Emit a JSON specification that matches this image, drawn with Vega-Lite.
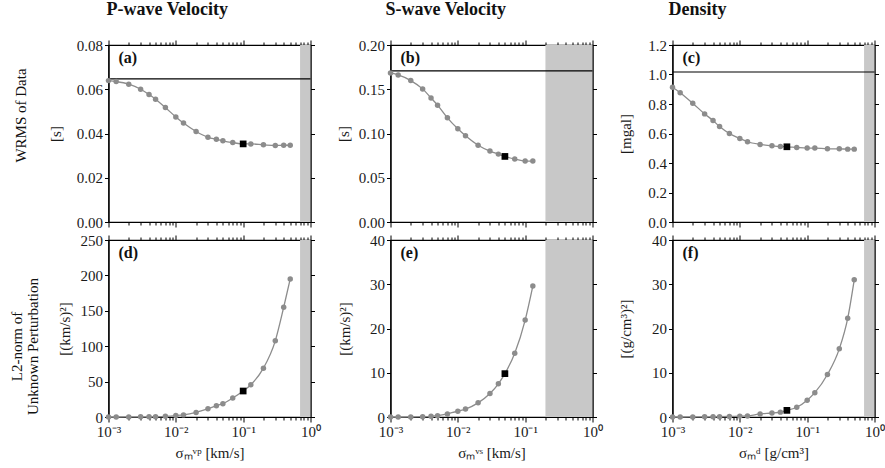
{
  "$schema": "https://vega.github.io/schema/vega-lite/v6.json",
  "padding": {"left": 9.5, "top": 0, "right": 2, "bottom": 2},
  "background": "white",
  "spacing": 1,
  "config": {
    "font": "Liberation Serif",
    "view": {"stroke": "black", "strokeWidth": 1.2},
    "axis": {
      "grid": false,
      "domainColor": "black",
      "domainWidth": 1.2,
      "tickColor": "black",
      "tickWidth": 1,
      "tickSize": 4,
      "labelColor": "#1a1a1a",
      "labelFont": "Liberation Serif",
      "labelFontSize": 15,
      "labelPadding": 2,
      "titleColor": "#1a1a1a",
      "titleFont": "Liberation Serif",
      "titleFontSize": 15,
      "titleFontWeight": "normal",
      "titlePadding": 8
    },
    "title": {"font": "Liberation Serif", "color": "#111"}
  },
  "datasets": {
    "curves": [
      {"p": "vp", "m": "wrms", "s": 0.001, "v": 0.0639, "best": 0},
      {"p": "vp", "m": "wrms", "s": 0.0013, "v": 0.0635, "best": 0},
      {"p": "vp", "m": "wrms", "s": 0.002, "v": 0.0623, "best": 0},
      {"p": "vp", "m": "wrms", "s": 0.003, "v": 0.06, "best": 0},
      {"p": "vp", "m": "wrms", "s": 0.004, "v": 0.0576, "best": 0},
      {"p": "vp", "m": "wrms", "s": 0.005, "v": 0.0555, "best": 0},
      {"p": "vp", "m": "wrms", "s": 0.007, "v": 0.0517, "best": 0},
      {"p": "vp", "m": "wrms", "s": 0.01, "v": 0.0475, "best": 0},
      {"p": "vp", "m": "wrms", "s": 0.013, "v": 0.0447, "best": 0},
      {"p": "vp", "m": "wrms", "s": 0.02, "v": 0.0409, "best": 0},
      {"p": "vp", "m": "wrms", "s": 0.03, "v": 0.0383, "best": 0},
      {"p": "vp", "m": "wrms", "s": 0.04, "v": 0.0374, "best": 0},
      {"p": "vp", "m": "wrms", "s": 0.05, "v": 0.0367, "best": 0},
      {"p": "vp", "m": "wrms", "s": 0.07, "v": 0.0359, "best": 0},
      {"p": "vp", "m": "wrms", "s": 0.1, "v": 0.0353, "best": 1},
      {"p": "vp", "m": "wrms", "s": 0.13, "v": 0.0353, "best": 0},
      {"p": "vp", "m": "wrms", "s": 0.2, "v": 0.0349, "best": 0},
      {"p": "vp", "m": "wrms", "s": 0.3, "v": 0.0346, "best": 0},
      {"p": "vp", "m": "wrms", "s": 0.4, "v": 0.0347, "best": 0},
      {"p": "vp", "m": "wrms", "s": 0.5, "v": 0.0347, "best": 0},

      {"p": "vs", "m": "wrms", "s": 0.001, "v": 0.1684, "best": 0},
      {"p": "vs", "m": "wrms", "s": 0.0013, "v": 0.1662, "best": 0},
      {"p": "vs", "m": "wrms", "s": 0.002, "v": 0.1598, "best": 0},
      {"p": "vs", "m": "wrms", "s": 0.003, "v": 0.1504, "best": 0},
      {"p": "vs", "m": "wrms", "s": 0.004, "v": 0.1402, "best": 0},
      {"p": "vs", "m": "wrms", "s": 0.005, "v": 0.132, "best": 0},
      {"p": "vs", "m": "wrms", "s": 0.007, "v": 0.1177, "best": 0},
      {"p": "vs", "m": "wrms", "s": 0.01, "v": 0.1053, "best": 0},
      {"p": "vs", "m": "wrms", "s": 0.013, "v": 0.0974, "best": 0},
      {"p": "vs", "m": "wrms", "s": 0.02, "v": 0.0868, "best": 0},
      {"p": "vs", "m": "wrms", "s": 0.03, "v": 0.0801, "best": 0},
      {"p": "vs", "m": "wrms", "s": 0.04, "v": 0.0767, "best": 0},
      {"p": "vs", "m": "wrms", "s": 0.05, "v": 0.0741, "best": 1},
      {"p": "vs", "m": "wrms", "s": 0.07, "v": 0.0711, "best": 0},
      {"p": "vs", "m": "wrms", "s": 0.1, "v": 0.0688, "best": 0},
      {"p": "vs", "m": "wrms", "s": 0.13, "v": 0.0688, "best": 0},

      {"p": "d", "m": "wrms", "s": 0.001, "v": 0.914, "best": 0},
      {"p": "d", "m": "wrms", "s": 0.0013, "v": 0.877, "best": 0},
      {"p": "d", "m": "wrms", "s": 0.002, "v": 0.805, "best": 0},
      {"p": "d", "m": "wrms", "s": 0.003, "v": 0.733, "best": 0},
      {"p": "d", "m": "wrms", "s": 0.004, "v": 0.688, "best": 0},
      {"p": "d", "m": "wrms", "s": 0.005, "v": 0.647, "best": 0},
      {"p": "d", "m": "wrms", "s": 0.007, "v": 0.6, "best": 0},
      {"p": "d", "m": "wrms", "s": 0.01, "v": 0.566, "best": 0},
      {"p": "d", "m": "wrms", "s": 0.013, "v": 0.544, "best": 0},
      {"p": "d", "m": "wrms", "s": 0.02, "v": 0.526, "best": 0},
      {"p": "d", "m": "wrms", "s": 0.03, "v": 0.517, "best": 0},
      {"p": "d", "m": "wrms", "s": 0.04, "v": 0.512, "best": 0},
      {"p": "d", "m": "wrms", "s": 0.05, "v": 0.51, "best": 1},
      {"p": "d", "m": "wrms", "s": 0.07, "v": 0.505, "best": 0},
      {"p": "d", "m": "wrms", "s": 0.1, "v": 0.501, "best": 0},
      {"p": "d", "m": "wrms", "s": 0.13, "v": 0.501, "best": 0},
      {"p": "d", "m": "wrms", "s": 0.2, "v": 0.496, "best": 0},
      {"p": "d", "m": "wrms", "s": 0.3, "v": 0.496, "best": 0},
      {"p": "d", "m": "wrms", "s": 0.4, "v": 0.494, "best": 0},
      {"p": "d", "m": "wrms", "s": 0.5, "v": 0.494, "best": 0},

      {"p": "vp", "m": "l2", "s": 0.001, "v": 0, "best": 0},
      {"p": "vp", "m": "l2", "s": 0.0013, "v": 0, "best": 0},
      {"p": "vp", "m": "l2", "s": 0.002, "v": 0.1, "best": 0},
      {"p": "vp", "m": "l2", "s": 0.003, "v": 0.2, "best": 0},
      {"p": "vp", "m": "l2", "s": 0.004, "v": 0.3, "best": 0},
      {"p": "vp", "m": "l2", "s": 0.005, "v": 0.5, "best": 0},
      {"p": "vp", "m": "l2", "s": 0.007, "v": 1, "best": 0},
      {"p": "vp", "m": "l2", "s": 0.01, "v": 2, "best": 0},
      {"p": "vp", "m": "l2", "s": 0.013, "v": 3, "best": 0},
      {"p": "vp", "m": "l2", "s": 0.02, "v": 6.5, "best": 0},
      {"p": "vp", "m": "l2", "s": 0.03, "v": 11.7, "best": 0},
      {"p": "vp", "m": "l2", "s": 0.04, "v": 16, "best": 0},
      {"p": "vp", "m": "l2", "s": 0.05, "v": 18.8, "best": 0},
      {"p": "vp", "m": "l2", "s": 0.07, "v": 26.8, "best": 0},
      {"p": "vp", "m": "l2", "s": 0.1, "v": 36.7, "best": 1},
      {"p": "vp", "m": "l2", "s": 0.13, "v": 45.6, "best": 0},
      {"p": "vp", "m": "l2", "s": 0.2, "v": 69, "best": 0},
      {"p": "vp", "m": "l2", "s": 0.3, "v": 107.6, "best": 0},
      {"p": "vp", "m": "l2", "s": 0.4, "v": 155, "best": 0},
      {"p": "vp", "m": "l2", "s": 0.5, "v": 195, "best": 0},

      {"p": "vs", "m": "l2", "s": 0.001, "v": 0, "best": 0},
      {"p": "vs", "m": "l2", "s": 0.0013, "v": 0, "best": 0},
      {"p": "vs", "m": "l2", "s": 0.002, "v": 0.02, "best": 0},
      {"p": "vs", "m": "l2", "s": 0.003, "v": 0.07, "best": 0},
      {"p": "vs", "m": "l2", "s": 0.004, "v": 0.15, "best": 0},
      {"p": "vs", "m": "l2", "s": 0.005, "v": 0.3, "best": 0},
      {"p": "vs", "m": "l2", "s": 0.007, "v": 0.7, "best": 0},
      {"p": "vs", "m": "l2", "s": 0.01, "v": 1.3, "best": 0},
      {"p": "vs", "m": "l2", "s": 0.013, "v": 1.8, "best": 0},
      {"p": "vs", "m": "l2", "s": 0.02, "v": 3.2, "best": 0},
      {"p": "vs", "m": "l2", "s": 0.03, "v": 5.3, "best": 0},
      {"p": "vs", "m": "l2", "s": 0.04, "v": 7.5, "best": 0},
      {"p": "vs", "m": "l2", "s": 0.05, "v": 9.8, "best": 1},
      {"p": "vs", "m": "l2", "s": 0.07, "v": 14.4, "best": 0},
      {"p": "vs", "m": "l2", "s": 0.1, "v": 21.9, "best": 0},
      {"p": "vs", "m": "l2", "s": 0.13, "v": 29.6, "best": 0},

      {"p": "d", "m": "l2", "s": 0.001, "v": 0, "best": 0},
      {"p": "d", "m": "l2", "s": 0.0013, "v": 0, "best": 0},
      {"p": "d", "m": "l2", "s": 0.002, "v": 0.02, "best": 0},
      {"p": "d", "m": "l2", "s": 0.003, "v": 0.04, "best": 0},
      {"p": "d", "m": "l2", "s": 0.004, "v": 0.06, "best": 0},
      {"p": "d", "m": "l2", "s": 0.005, "v": 0.08, "best": 0},
      {"p": "d", "m": "l2", "s": 0.007, "v": 0.12, "best": 0},
      {"p": "d", "m": "l2", "s": 0.01, "v": 0.2, "best": 0},
      {"p": "d", "m": "l2", "s": 0.013, "v": 0.25, "best": 0},
      {"p": "d", "m": "l2", "s": 0.02, "v": 0.7, "best": 0},
      {"p": "d", "m": "l2", "s": 0.03, "v": 0.9, "best": 0},
      {"p": "d", "m": "l2", "s": 0.04, "v": 1.1, "best": 0},
      {"p": "d", "m": "l2", "s": 0.05, "v": 1.5, "best": 1},
      {"p": "d", "m": "l2", "s": 0.07, "v": 2.2, "best": 0},
      {"p": "d", "m": "l2", "s": 0.1, "v": 3.8, "best": 0},
      {"p": "d", "m": "l2", "s": 0.13, "v": 5.5, "best": 0},
      {"p": "d", "m": "l2", "s": 0.2, "v": 9.6, "best": 0},
      {"p": "d", "m": "l2", "s": 0.3, "v": 15.4, "best": 0},
      {"p": "d", "m": "l2", "s": 0.4, "v": 22.3, "best": 0},
      {"p": "d", "m": "l2", "s": 0.5, "v": 31, "best": 0}
    ],
    "bands": [
      {"p": "vp", "lo": 0.7, "hi": 1},
      {"p": "vs", "lo": 0.2, "hi": 1},
      {"p": "d", "lo": 0.7, "hi": 1}
    ],
    "refs": [
      {"p": "vp", "y": 0.0647},
      {"p": "vs", "y": 0.1707},
      {"p": "d", "y": 1.017}
    ],
    "tags": [
      {"p": "vp", "m": "wrms", "tag": "(a)", "top": 0.08},
      {"p": "vs", "m": "wrms", "tag": "(b)", "top": 0.2},
      {"p": "d", "m": "wrms", "tag": "(c)", "top": 1.2},
      {"p": "vp", "m": "l2", "tag": "(d)", "top": 250},
      {"p": "vs", "m": "l2", "tag": "(e)", "top": 40},
      {"p": "d", "m": "l2", "tag": "(f)", "top": 40}
    ]
  },
  "vconcat": [
    {
      "bounds": "flush",
      "spacing": 80,
      "title": {"text": "WRMS of Data", "orient": "left", "anchor": "middle", "font": "Liberation Serif", "fontSize": 15, "fontWeight": "normal", "offset": 19},
      "hconcat": [
        {
          "width": 202, "height": 177,
          "title": {"text": "P-wave Velocity", "anchor": "start", "frame": "group", "font": "Liberation Serif", "fontSize": 18, "fontWeight": "bold", "offset": 19, "dx": -2},
          "resolve": {"axis": {"x": "independent", "y": "independent"}},
          "layer": [
            {"data": {"name": "bands"}, "transform": [{"filter": "datum.p == 'vp'"}],
             "mark": {"type": "rect", "color": "#c8c8c8"},
             "encoding": {"x": {"field": "lo", "type": "quantitative", "scale": {"type": "log", "domain": [0.001, 1]}, "axis": null}, "x2": {"field": "hi"}}},
            {"data": {"name": "refs"}, "transform": [{"filter": "datum.p == 'vp'"}],
             "mark": {"type": "rule", "color": "black", "strokeWidth": 1.2},
             "encoding": {"y": {"field": "y", "type": "quantitative", "scale": {"domain": [0, 0.08], "nice": false}, "axis": null}}},
            {"data": {"name": "curves"}, "transform": [{"filter": "datum.p == 'vp' && datum.m == 'wrms'"}],
             "mark": {"type": "line", "interpolate": "monotone", "color": "#8c8c8c", "strokeWidth": 1.3},
             "encoding": {
               "x": {"field": "s", "type": "quantitative", "scale": {"type": "log", "domain": [0.001, 1]},
                     "axis": {"orient": "bottom", "labels": false, "title": null, "values": [0.001,0.002,0.003,0.004,0.005,0.006,0.007,0.008,0.009,0.01,0.02,0.03,0.04,0.05,0.06,0.07,0.08,0.09,0.1,0.2,0.3,0.4,0.5,0.6,0.7,0.8,0.9,1],
                              "tickSize": {"condition": {"test": "abs(log(datum.value)/LN10 - round(log(datum.value)/LN10)) < 0.001", "value": 5}, "value": 3}}},
               "y": {"field": "v", "type": "quantitative", "scale": {"domain": [0, 0.08], "nice": false},
                     "axis": {"orient": "left", "title": "[s]", "titlePadding": 13, "values": [0, 0.02, 0.04, 0.06, 0.08], "format": ".2f"}}}},
            {"data": {"name": "curves"}, "transform": [{"filter": "datum.p == 'vp' && datum.m == 'wrms' && datum.best == 0"}],
             "mark": {"type": "circle", "color": "#8c8c8c", "opacity": 1, "size": 30},
             "encoding": {"x": {"field": "s", "type": "quantitative", "axis": null}, "y": {"field": "v", "type": "quantitative", "axis": null}}},
            {"data": {"name": "curves"}, "transform": [{"filter": "datum.p == 'vp' && datum.m == 'wrms' && datum.best == 1"}],
             "mark": {"type": "square", "color": "black", "opacity": 1, "size": 45},
             "encoding": {"x": {"field": "s", "type": "quantitative", "axis": null}, "y": {"field": "v", "type": "quantitative", "axis": null}}},
            {"data": {"name": "tags"}, "transform": [{"filter": "datum.p == 'vp' && datum.m == 'wrms'"}],
             "mark": {"type": "text", "align": "left", "baseline": "top", "dx": 10, "dy": 5, "font": "Liberation Serif", "fontSize": 16, "fontWeight": "bold", "color": "#111"},
             "encoding": {"x": {"datum": 0.001, "type": "quantitative", "axis": null}, "y": {"field": "top", "type": "quantitative", "axis": null}, "text": {"field": "tag"}}},
            {"data": {"name": "curves"}, "transform": [{"filter": "datum.p == 'vp' && datum.m == 'wrms'"}],
             "mark": {"type": "point", "opacity": 0},
             "encoding": {
               "x": {"field": "s", "type": "quantitative",
                     "axis": {"orient": "top", "labels": false, "title": null, "values": [0.001,0.002,0.003,0.004,0.005,0.006,0.007,0.008,0.009,0.01,0.02,0.03,0.04,0.05,0.06,0.07,0.08,0.09,0.1,0.2,0.3,0.4,0.5,0.6,0.7,0.8,0.9,1],
                              "tickSize": {"condition": {"test": "abs(log(datum.value)/LN10 - round(log(datum.value)/LN10)) < 0.001", "value": 5}, "value": 3}}},
               "y": {"field": "v", "type": "quantitative", "axis": {"orient": "right", "labels": false, "title": null, "values": [0, 0.02, 0.04, 0.06, 0.08]}}}}
          ]
        },
        {
          "width": 202, "height": 177,
          "title": {"text": "S-wave Velocity", "anchor": "start", "frame": "group", "font": "Liberation Serif", "fontSize": 18, "fontWeight": "bold", "offset": 19, "dx": -5},
          "resolve": {"axis": {"x": "independent", "y": "independent"}},
          "layer": [
            {"data": {"name": "bands"}, "transform": [{"filter": "datum.p == 'vs'"}],
             "mark": {"type": "rect", "color": "#c8c8c8"},
             "encoding": {"x": {"field": "lo", "type": "quantitative", "scale": {"type": "log", "domain": [0.001, 1]}, "axis": null}, "x2": {"field": "hi"}}},
            {"data": {"name": "refs"}, "transform": [{"filter": "datum.p == 'vs'"}],
             "mark": {"type": "rule", "color": "black", "strokeWidth": 1.2},
             "encoding": {"y": {"field": "y", "type": "quantitative", "scale": {"domain": [0, 0.2], "nice": false}, "axis": null}}},
            {"data": {"name": "curves"}, "transform": [{"filter": "datum.p == 'vs' && datum.m == 'wrms'"}],
             "mark": {"type": "line", "interpolate": "monotone", "color": "#8c8c8c", "strokeWidth": 1.3},
             "encoding": {
               "x": {"field": "s", "type": "quantitative", "scale": {"type": "log", "domain": [0.001, 1]},
                     "axis": {"orient": "bottom", "labels": false, "title": null, "values": [0.001,0.002,0.003,0.004,0.005,0.006,0.007,0.008,0.009,0.01,0.02,0.03,0.04,0.05,0.06,0.07,0.08,0.09,0.1,0.2,0.3,0.4,0.5,0.6,0.7,0.8,0.9,1],
                              "tickSize": {"condition": {"test": "abs(log(datum.value)/LN10 - round(log(datum.value)/LN10)) < 0.001", "value": 5}, "value": 3}}},
               "y": {"field": "v", "type": "quantitative", "scale": {"domain": [0, 0.2], "nice": false},
                     "axis": {"orient": "left", "title": "[s]", "titlePadding": 7, "values": [0, 0.05, 0.1, 0.15, 0.2], "format": ".2f"}}}},
            {"data": {"name": "curves"}, "transform": [{"filter": "datum.p == 'vs' && datum.m == 'wrms' && datum.best == 0"}],
             "mark": {"type": "circle", "color": "#8c8c8c", "opacity": 1, "size": 30},
             "encoding": {"x": {"field": "s", "type": "quantitative", "axis": null}, "y": {"field": "v", "type": "quantitative", "axis": null}}},
            {"data": {"name": "curves"}, "transform": [{"filter": "datum.p == 'vs' && datum.m == 'wrms' && datum.best == 1"}],
             "mark": {"type": "square", "color": "black", "opacity": 1, "size": 45},
             "encoding": {"x": {"field": "s", "type": "quantitative", "axis": null}, "y": {"field": "v", "type": "quantitative", "axis": null}}},
            {"data": {"name": "tags"}, "transform": [{"filter": "datum.p == 'vs' && datum.m == 'wrms'"}],
             "mark": {"type": "text", "align": "left", "baseline": "top", "dx": 10, "dy": 5, "font": "Liberation Serif", "fontSize": 16, "fontWeight": "bold", "color": "#111"},
             "encoding": {"x": {"datum": 0.001, "type": "quantitative", "axis": null}, "y": {"field": "top", "type": "quantitative", "axis": null}, "text": {"field": "tag"}}},
            {"data": {"name": "curves"}, "transform": [{"filter": "datum.p == 'vs' && datum.m == 'wrms'"}],
             "mark": {"type": "point", "opacity": 0},
             "encoding": {
               "x": {"field": "s", "type": "quantitative",
                     "axis": {"orient": "top", "labels": false, "title": null, "values": [0.001,0.002,0.003,0.004,0.005,0.006,0.007,0.008,0.009,0.01,0.02,0.03,0.04,0.05,0.06,0.07,0.08,0.09,0.1,0.2,0.3,0.4,0.5,0.6,0.7,0.8,0.9,1],
                              "tickSize": {"condition": {"test": "abs(log(datum.value)/LN10 - round(log(datum.value)/LN10)) < 0.001", "value": 5}, "value": 3}}},
               "y": {"field": "v", "type": "quantitative", "axis": {"orient": "right", "labels": false, "title": null, "values": [0, 0.05, 0.1, 0.15, 0.2]}}}}
          ]
        },
        {
          "width": 202, "height": 177,
          "title": {"text": "Density", "anchor": "start", "frame": "group", "font": "Liberation Serif", "fontSize": 18, "fontWeight": "bold", "offset": 19, "dx": -4},
          "resolve": {"axis": {"x": "independent", "y": "independent"}},
          "layer": [
            {"data": {"name": "bands"}, "transform": [{"filter": "datum.p == 'd'"}],
             "mark": {"type": "rect", "color": "#c8c8c8"},
             "encoding": {"x": {"field": "lo", "type": "quantitative", "scale": {"type": "log", "domain": [0.001, 1]}, "axis": null}, "x2": {"field": "hi"}}},
            {"data": {"name": "refs"}, "transform": [{"filter": "datum.p == 'd'"}],
             "mark": {"type": "rule", "color": "black", "strokeWidth": 1.2},
             "encoding": {"y": {"field": "y", "type": "quantitative", "scale": {"domain": [0, 1.2], "nice": false}, "axis": null}}},
            {"data": {"name": "curves"}, "transform": [{"filter": "datum.p == 'd' && datum.m == 'wrms'"}],
             "mark": {"type": "line", "interpolate": "monotone", "color": "#8c8c8c", "strokeWidth": 1.3},
             "encoding": {
               "x": {"field": "s", "type": "quantitative", "scale": {"type": "log", "domain": [0.001, 1]},
                     "axis": {"orient": "bottom", "labels": false, "title": null, "values": [0.001,0.002,0.003,0.004,0.005,0.006,0.007,0.008,0.009,0.01,0.02,0.03,0.04,0.05,0.06,0.07,0.08,0.09,0.1,0.2,0.3,0.4,0.5,0.6,0.7,0.8,0.9,1],
                              "tickSize": {"condition": {"test": "abs(log(datum.value)/LN10 - round(log(datum.value)/LN10)) < 0.001", "value": 5}, "value": 3}}},
               "y": {"field": "v", "type": "quantitative", "scale": {"domain": [0, 1.2], "nice": false},
                     "axis": {"orient": "left", "title": "[mgal]", "titlePadding": 14, "values": [0, 0.2, 0.4, 0.6, 0.8, 1, 1.2], "format": ".1f"}}}},
            {"data": {"name": "curves"}, "transform": [{"filter": "datum.p == 'd' && datum.m == 'wrms' && datum.best == 0"}],
             "mark": {"type": "circle", "color": "#8c8c8c", "opacity": 1, "size": 30},
             "encoding": {"x": {"field": "s", "type": "quantitative", "axis": null}, "y": {"field": "v", "type": "quantitative", "axis": null}}},
            {"data": {"name": "curves"}, "transform": [{"filter": "datum.p == 'd' && datum.m == 'wrms' && datum.best == 1"}],
             "mark": {"type": "square", "color": "black", "opacity": 1, "size": 45},
             "encoding": {"x": {"field": "s", "type": "quantitative", "axis": null}, "y": {"field": "v", "type": "quantitative", "axis": null}}},
            {"data": {"name": "tags"}, "transform": [{"filter": "datum.p == 'd' && datum.m == 'wrms'"}],
             "mark": {"type": "text", "align": "left", "baseline": "top", "dx": 10, "dy": 5, "font": "Liberation Serif", "fontSize": 16, "fontWeight": "bold", "color": "#111"},
             "encoding": {"x": {"datum": 0.001, "type": "quantitative", "axis": null}, "y": {"field": "top", "type": "quantitative", "axis": null}, "text": {"field": "tag"}}},
            {"data": {"name": "curves"}, "transform": [{"filter": "datum.p == 'd' && datum.m == 'wrms'"}],
             "mark": {"type": "point", "opacity": 0},
             "encoding": {
               "x": {"field": "s", "type": "quantitative",
                     "axis": {"orient": "top", "labels": false, "title": null, "values": [0.001,0.002,0.003,0.004,0.005,0.006,0.007,0.008,0.009,0.01,0.02,0.03,0.04,0.05,0.06,0.07,0.08,0.09,0.1,0.2,0.3,0.4,0.5,0.6,0.7,0.8,0.9,1],
                              "tickSize": {"condition": {"test": "abs(log(datum.value)/LN10 - round(log(datum.value)/LN10)) < 0.001", "value": 5}, "value": 3}}},
               "y": {"field": "v", "type": "quantitative", "axis": {"orient": "right", "labels": false, "title": null, "values": [0, 0.2, 0.4, 0.6, 0.8, 1, 1.2]}}}}
          ]
        }
      ]
    },
    {
      "bounds": "flush",
      "spacing": 80,
      "title": {"text": ["L2-norm of", "Unknown Perturbation"], "orient": "left", "anchor": "middle", "font": "Liberation Serif", "fontSize": 15, "fontWeight": "normal", "lineHeight": 16, "offset": 15},
      "hconcat": [
        {
          "width": 202, "height": 177,
          "resolve": {"axis": {"x": "independent", "y": "independent"}},
          "layer": [
            {"data": {"name": "bands"}, "transform": [{"filter": "datum.p == 'vp'"}],
             "mark": {"type": "rect", "color": "#c8c8c8"},
             "encoding": {"x": {"field": "lo", "type": "quantitative", "scale": {"type": "log", "domain": [0.001, 1]}, "axis": null}, "x2": {"field": "hi"}}},
            {"data": {"name": "curves"}, "transform": [{"filter": "datum.p == 'vp' && datum.m == 'l2'"}],
             "mark": {"type": "line", "interpolate": "monotone", "color": "#8c8c8c", "strokeWidth": 1.3},
             "encoding": {
               "x": {"field": "s", "type": "quantitative", "scale": {"type": "log", "domain": [0.001, 1]},
                     "axis": {"orient": "bottom", "title": "σₘᵛᵖ [km/s]", "titlePadding": 6, "labelOverlap": false, "labelFlush": false, "values": [0.001,0.002,0.003,0.004,0.005,0.006,0.007,0.008,0.009,0.01,0.02,0.03,0.04,0.05,0.06,0.07,0.08,0.09,0.1,0.2,0.3,0.4,0.5,0.6,0.7,0.8,0.9,1],
                              "labelExpr": "datum.value < 0.0015 ? '10⁻³' : (datum.value > 0.0095 && datum.value < 0.0105) ? '10⁻²' : (datum.value > 0.095 && datum.value < 0.105) ? '10⁻¹' : datum.value > 0.95 ? '10⁰' : ''",
                              "tickSize": {"condition": {"test": "abs(log(datum.value)/LN10 - round(log(datum.value)/LN10)) < 0.001", "value": 5}, "value": 3}}},
               "y": {"field": "v", "type": "quantitative", "scale": {"domain": [0, 250], "nice": false},
                     "axis": {"orient": "left", "title": "[(km/s)²]", "titlePadding": 8, "values": [0, 50, 100, 150, 200, 250]}}}},
            {"data": {"name": "curves"}, "transform": [{"filter": "datum.p == 'vp' && datum.m == 'l2' && datum.best == 0"}],
             "mark": {"type": "circle", "color": "#8c8c8c", "opacity": 1, "size": 30},
             "encoding": {"x": {"field": "s", "type": "quantitative", "axis": null}, "y": {"field": "v", "type": "quantitative", "axis": null}}},
            {"data": {"name": "curves"}, "transform": [{"filter": "datum.p == 'vp' && datum.m == 'l2' && datum.best == 1"}],
             "mark": {"type": "square", "color": "black", "opacity": 1, "size": 45},
             "encoding": {"x": {"field": "s", "type": "quantitative", "axis": null}, "y": {"field": "v", "type": "quantitative", "axis": null}}},
            {"data": {"name": "tags"}, "transform": [{"filter": "datum.p == 'vp' && datum.m == 'l2'"}],
             "mark": {"type": "text", "align": "left", "baseline": "top", "dx": 10, "dy": 5, "font": "Liberation Serif", "fontSize": 16, "fontWeight": "bold", "color": "#111"},
             "encoding": {"x": {"datum": 0.001, "type": "quantitative", "axis": null}, "y": {"field": "top", "type": "quantitative", "axis": null}, "text": {"field": "tag"}}},
            {"data": {"name": "curves"}, "transform": [{"filter": "datum.p == 'vp' && datum.m == 'l2'"}],
             "mark": {"type": "point", "opacity": 0},
             "encoding": {
               "x": {"field": "s", "type": "quantitative",
                     "axis": {"orient": "top", "labels": false, "title": null, "values": [0.001,0.002,0.003,0.004,0.005,0.006,0.007,0.008,0.009,0.01,0.02,0.03,0.04,0.05,0.06,0.07,0.08,0.09,0.1,0.2,0.3,0.4,0.5,0.6,0.7,0.8,0.9,1],
                              "tickSize": {"condition": {"test": "abs(log(datum.value)/LN10 - round(log(datum.value)/LN10)) < 0.001", "value": 5}, "value": 3}}},
               "y": {"field": "v", "type": "quantitative", "axis": {"orient": "right", "labels": false, "title": null, "values": [0, 50, 100, 150, 200, 250]}}}}
          ]
        },
        {
          "width": 202, "height": 177,
          "resolve": {"axis": {"x": "independent", "y": "independent"}},
          "layer": [
            {"data": {"name": "bands"}, "transform": [{"filter": "datum.p == 'vs'"}],
             "mark": {"type": "rect", "color": "#c8c8c8"},
             "encoding": {"x": {"field": "lo", "type": "quantitative", "scale": {"type": "log", "domain": [0.001, 1]}, "axis": null}, "x2": {"field": "hi"}}},
            {"data": {"name": "curves"}, "transform": [{"filter": "datum.p == 'vs' && datum.m == 'l2'"}],
             "mark": {"type": "line", "interpolate": "monotone", "color": "#8c8c8c", "strokeWidth": 1.3},
             "encoding": {
               "x": {"field": "s", "type": "quantitative", "scale": {"type": "log", "domain": [0.001, 1]},
                     "axis": {"orient": "bottom", "title": "σₘᵛˢ [km/s]", "titlePadding": 6, "labelOverlap": false, "labelFlush": false, "values": [0.001,0.002,0.003,0.004,0.005,0.006,0.007,0.008,0.009,0.01,0.02,0.03,0.04,0.05,0.06,0.07,0.08,0.09,0.1,0.2,0.3,0.4,0.5,0.6,0.7,0.8,0.9,1],
                              "labelExpr": "datum.value < 0.0015 ? '10⁻³' : (datum.value > 0.0095 && datum.value < 0.0105) ? '10⁻²' : (datum.value > 0.095 && datum.value < 0.105) ? '10⁻¹' : datum.value > 0.95 ? '10⁰' : ''",
                              "tickSize": {"condition": {"test": "abs(log(datum.value)/LN10 - round(log(datum.value)/LN10)) < 0.001", "value": 5}, "value": 3}}},
               "y": {"field": "v", "type": "quantitative", "scale": {"domain": [0, 40], "nice": false},
                     "axis": {"orient": "left", "title": "[(km/s)²]", "titlePadding": 17, "values": [0, 10, 20, 30, 40]}}}},
            {"data": {"name": "curves"}, "transform": [{"filter": "datum.p == 'vs' && datum.m == 'l2' && datum.best == 0"}],
             "mark": {"type": "circle", "color": "#8c8c8c", "opacity": 1, "size": 30},
             "encoding": {"x": {"field": "s", "type": "quantitative", "axis": null}, "y": {"field": "v", "type": "quantitative", "axis": null}}},
            {"data": {"name": "curves"}, "transform": [{"filter": "datum.p == 'vs' && datum.m == 'l2' && datum.best == 1"}],
             "mark": {"type": "square", "color": "black", "opacity": 1, "size": 45},
             "encoding": {"x": {"field": "s", "type": "quantitative", "axis": null}, "y": {"field": "v", "type": "quantitative", "axis": null}}},
            {"data": {"name": "tags"}, "transform": [{"filter": "datum.p == 'vs' && datum.m == 'l2'"}],
             "mark": {"type": "text", "align": "left", "baseline": "top", "dx": 10, "dy": 5, "font": "Liberation Serif", "fontSize": 16, "fontWeight": "bold", "color": "#111"},
             "encoding": {"x": {"datum": 0.001, "type": "quantitative", "axis": null}, "y": {"field": "top", "type": "quantitative", "axis": null}, "text": {"field": "tag"}}},
            {"data": {"name": "curves"}, "transform": [{"filter": "datum.p == 'vs' && datum.m == 'l2'"}],
             "mark": {"type": "point", "opacity": 0},
             "encoding": {
               "x": {"field": "s", "type": "quantitative",
                     "axis": {"orient": "top", "labels": false, "title": null, "values": [0.001,0.002,0.003,0.004,0.005,0.006,0.007,0.008,0.009,0.01,0.02,0.03,0.04,0.05,0.06,0.07,0.08,0.09,0.1,0.2,0.3,0.4,0.5,0.6,0.7,0.8,0.9,1],
                              "tickSize": {"condition": {"test": "abs(log(datum.value)/LN10 - round(log(datum.value)/LN10)) < 0.001", "value": 5}, "value": 3}}},
               "y": {"field": "v", "type": "quantitative", "axis": {"orient": "right", "labels": false, "title": null, "values": [0, 10, 20, 30, 40]}}}}
          ]
        },
        {
          "width": 202, "height": 177,
          "resolve": {"axis": {"x": "independent", "y": "independent"}},
          "layer": [
            {"data": {"name": "bands"}, "transform": [{"filter": "datum.p == 'd'"}],
             "mark": {"type": "rect", "color": "#c8c8c8"},
             "encoding": {"x": {"field": "lo", "type": "quantitative", "scale": {"type": "log", "domain": [0.001, 1]}, "axis": null}, "x2": {"field": "hi"}}},
            {"data": {"name": "curves"}, "transform": [{"filter": "datum.p == 'd' && datum.m == 'l2'"}],
             "mark": {"type": "line", "interpolate": "monotone", "color": "#8c8c8c", "strokeWidth": 1.3},
             "encoding": {
               "x": {"field": "s", "type": "quantitative", "scale": {"type": "log", "domain": [0.001, 1]},
                     "axis": {"orient": "bottom", "title": "σₘᵈ [g/cm³]", "titlePadding": 6, "labelOverlap": false, "labelFlush": false, "values": [0.001,0.002,0.003,0.004,0.005,0.006,0.007,0.008,0.009,0.01,0.02,0.03,0.04,0.05,0.06,0.07,0.08,0.09,0.1,0.2,0.3,0.4,0.5,0.6,0.7,0.8,0.9,1],
                              "labelExpr": "datum.value < 0.0015 ? '10⁻³' : (datum.value > 0.0095 && datum.value < 0.0105) ? '10⁻²' : (datum.value > 0.095 && datum.value < 0.105) ? '10⁻¹' : datum.value > 0.95 ? '10⁰' : ''",
                              "tickSize": {"condition": {"test": "abs(log(datum.value)/LN10 - round(log(datum.value)/LN10)) < 0.001", "value": 5}, "value": 3}}},
               "y": {"field": "v", "type": "quantitative", "scale": {"domain": [0, 40], "nice": false},
                     "axis": {"orient": "left", "title": "[(g/cm³)²]", "titlePadding": 18, "values": [0, 10, 20, 30, 40]}}}},
            {"data": {"name": "curves"}, "transform": [{"filter": "datum.p == 'd' && datum.m == 'l2' && datum.best == 0"}],
             "mark": {"type": "circle", "color": "#8c8c8c", "opacity": 1, "size": 30},
             "encoding": {"x": {"field": "s", "type": "quantitative", "axis": null}, "y": {"field": "v", "type": "quantitative", "axis": null}}},
            {"data": {"name": "curves"}, "transform": [{"filter": "datum.p == 'd' && datum.m == 'l2' && datum.best == 1"}],
             "mark": {"type": "square", "color": "black", "opacity": 1, "size": 45},
             "encoding": {"x": {"field": "s", "type": "quantitative", "axis": null}, "y": {"field": "v", "type": "quantitative", "axis": null}}},
            {"data": {"name": "tags"}, "transform": [{"filter": "datum.p == 'd' && datum.m == 'l2'"}],
             "mark": {"type": "text", "align": "left", "baseline": "top", "dx": 10, "dy": 5, "font": "Liberation Serif", "fontSize": 16, "fontWeight": "bold", "color": "#111"},
             "encoding": {"x": {"datum": 0.001, "type": "quantitative", "axis": null}, "y": {"field": "top", "type": "quantitative", "axis": null}, "text": {"field": "tag"}}},
            {"data": {"name": "curves"}, "transform": [{"filter": "datum.p == 'd' && datum.m == 'l2'"}],
             "mark": {"type": "point", "opacity": 0},
             "encoding": {
               "x": {"field": "s", "type": "quantitative",
                     "axis": {"orient": "top", "labels": false, "title": null, "values": [0.001,0.002,0.003,0.004,0.005,0.006,0.007,0.008,0.009,0.01,0.02,0.03,0.04,0.05,0.06,0.07,0.08,0.09,0.1,0.2,0.3,0.4,0.5,0.6,0.7,0.8,0.9,1],
                              "tickSize": {"condition": {"test": "abs(log(datum.value)/LN10 - round(log(datum.value)/LN10)) < 0.001", "value": 5}, "value": 3}}},
               "y": {"field": "v", "type": "quantitative", "axis": {"orient": "right", "labels": false, "title": null, "values": [0, 10, 20, 30, 40]}}}}
          ]
        }
      ]
    }
  ]
}
